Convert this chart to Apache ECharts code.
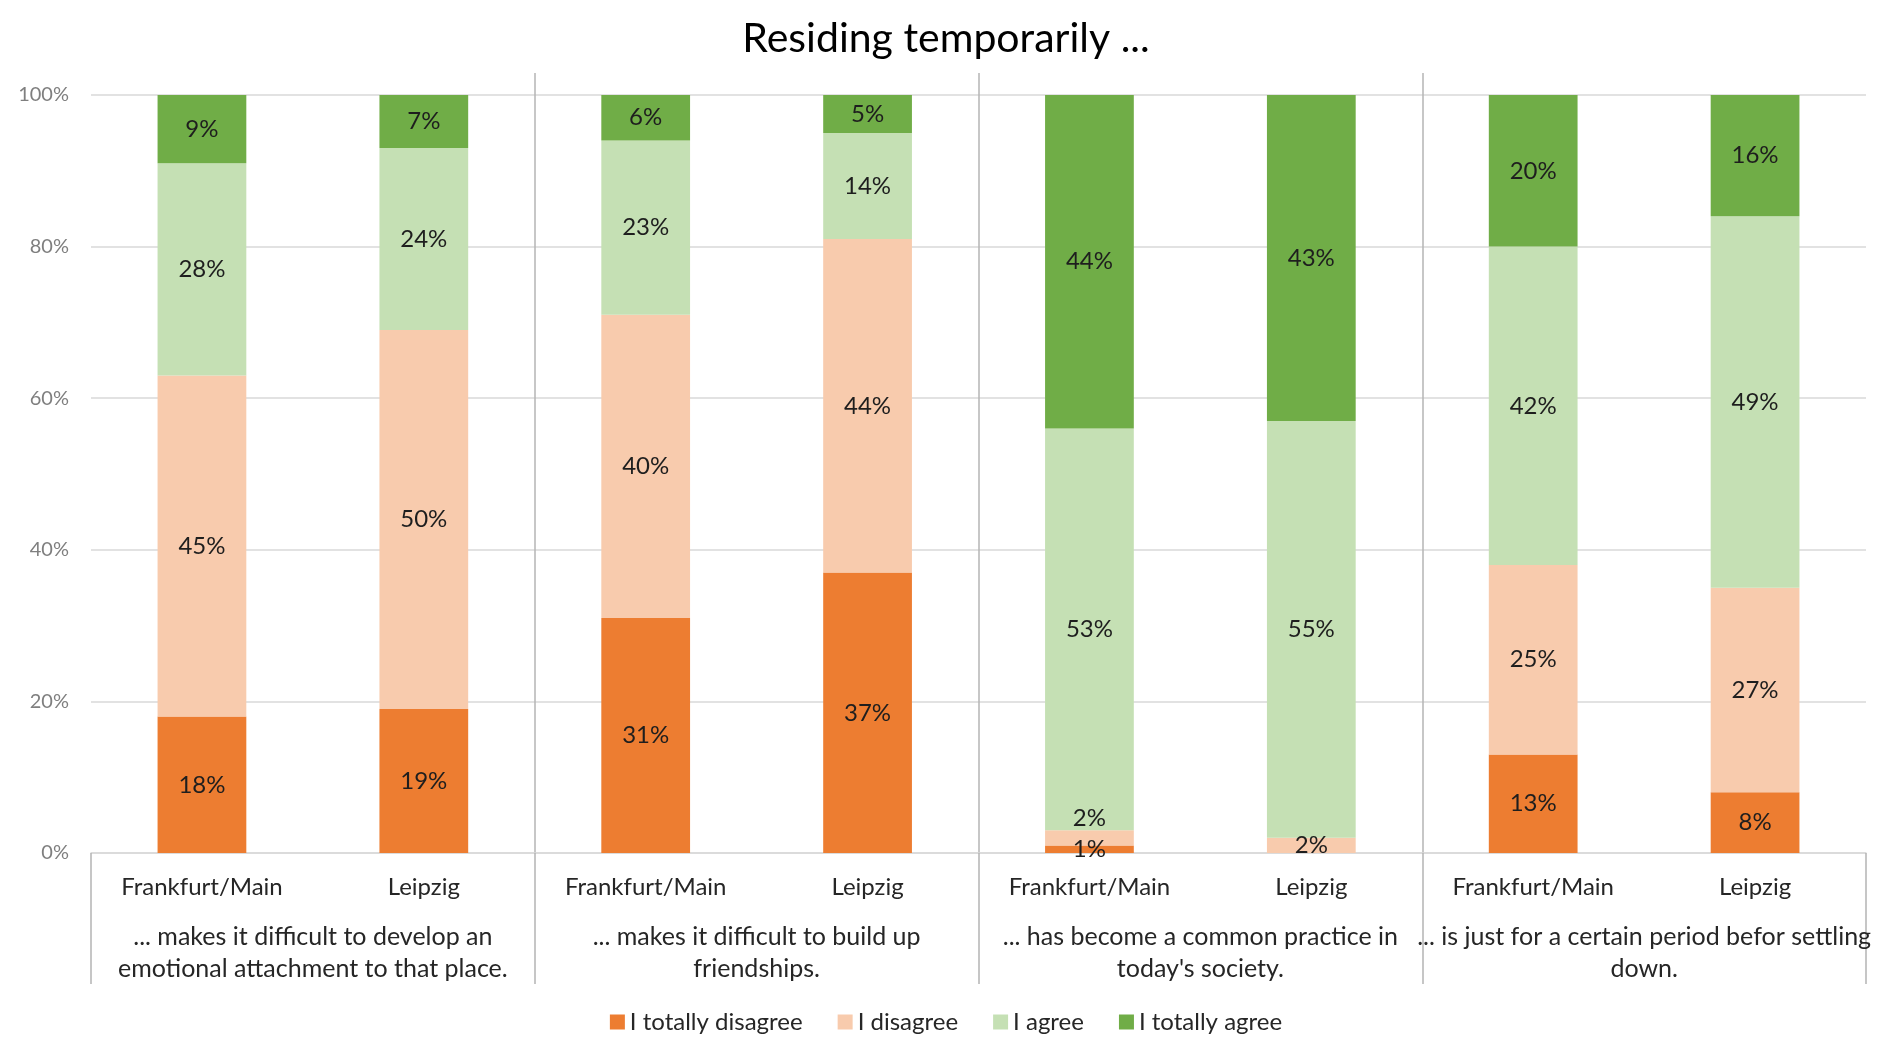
<!DOCTYPE html>
<html>
<head>
<meta charset="UTF-8" />
<title>Residing temporarily</title>
<script src="https://cdn.jsdelivr.net/npm/echarts@6/dist/echarts.min.js"></script>
<style type="text/css">
body{
	margin: 0px;
	background: #fff;
}
#chart{
	width: 1892px;
	height: 1052px;
}
</style>
</head>
<body>

<div id="chart"></div>

<script type="text/javascript">

// one bar per city, two cities per statement
var cities = ['Frankfurt/Main', 'Leipzig', 'Frankfurt/Main', 'Leipzig',
	'Frankfurt/Main', 'Leipzig', 'Frankfurt/Main', 'Leipzig'];

var statements = [
	'... makes it difficult to develop an\nemotional attachment to that place.',
	'... makes it difficult to build up\nfriendships.',
	'... has become a common practice in\ntoday\'s society.',
	'... is just for a certain period befor settling\ndown.'
];

var answerNames = ['I totally disagree', 'I disagree', 'I agree', 'I totally agree'];
var answerColors = ['#ED7D31', '#F8CBAD', '#C5E0B4', '#70AD47'];

// percentages, in the city order above
var totallyDisagree = [18, 19, 31, 37, 1, 0, 13, 8];
var disagree        = [45, 50, 40, 44, 2, 2, 25, 27];
var agree           = [28, 24, 23, 14, 53, 55, 42, 49];
var totallyAgree    = [9, 7, 6, 5, 44, 43, 20, 16];

var yTicks = [0, 20, 40, 60, 80, 100];

var FONT = 'Lato, "Open Sans", sans-serif';

function buildSeries(){
	var all = [totallyDisagree, disagree, agree, totallyAgree];
	return all.map(function(values, k){
		var data = values.map(function(v, i){
			var item = { value: v };
			// tiny segment sitting on another tiny one: push its label above
			if(k > 0 && v > 0 && v < 3 && all[k - 1][i] > 0 && all[k - 1][i] < 3){
				item.label = { position: 'top', distance: 0 };
			}
			return item;
		});
		return {
			name: answerNames[k],
			type: 'bar',
			stack: 'total',
			xAxisIndex: 0,
			yAxisIndex: 0,
			barWidth: '40%',
			itemStyle: { color: answerColors[k] },
			label: {
				show: true,
				position: 'inside',
				color: '#1e1e1e',
				fontFamily: FONT,
				fontSize: 24,
				formatter: function(p){ return p.value === 0 ? '' : p.value + '%'; }
			},
			emphasis: { disabled: true },
			data: data
		};
	});
}

var chart = echarts.init(document.getElementById('chart'));

chart.setOption({
	animation: false,
	backgroundColor: '#fff',
	title: {
		text: 'Residing temporarily ...',
		left: 'center',
		top: 13,
		textStyle: { fontFamily: FONT, fontSize: 41, fontWeight: 'normal', color: '#000' }
	},
	legend: {
		data: answerNames,
		bottom: 13,
		left: 'center',
		icon: 'rect',
		itemWidth: 15,
		itemHeight: 15,
		itemGap: 35,
		textStyle: { fontFamily: FONT, fontSize: 24, color: '#262626' }
	},
	grid: [
		{ left: 91, right: 26, top: 95, bottom: 199 },
		{ left: 91, right: 26, top: 73, bottom: 199 }
	],
	xAxis: [
		{
			type: 'category',
			gridIndex: 0,
			data: cities,
			axisLine: { lineStyle: { color: '#d9d9d9', width: 1.5 } },
			axisTick: { show: false },
			axisLabel: {
				interval: 0,
				margin: 22,
				color: '#262626',
				fontFamily: FONT,
				fontSize: 24
			}
		},
		{
			type: 'category',
			gridIndex: 1,
			position: 'bottom',
			data: statements,
			axisLine: { show: false },
			axisTick: {
				show: true,
				interval: 0,
				length: 131,
				lineStyle: { color: '#b4b4b4', width: 1.5 }
			},
			splitLine: {
				show: true,
				interval: 0,
				showMinLine: false,
				showMaxLine: false,
				lineStyle: { color: '#b4b4b4', width: 1.5 }
			},
			axisLabel: {
				interval: 0,
				margin: 68,
				lineHeight: 32,
				color: '#262626',
				fontFamily: FONT,
				fontSize: 25
			}
		}
	],
	yAxis: [
		{
			type: 'value',
			gridIndex: 0,
			min: yTicks[0],
			max: yTicks[yTicks.length - 1],
			interval: yTicks[1] - yTicks[0],
			axisLine: { show: false },
			axisTick: { show: false },
			splitLine: { lineStyle: { color: '#d9d9d9', width: 1.5 } },
			axisLabel: {
				margin: 22,
				color: '#7f7f7f',
				fontFamily: FONT,
				fontSize: 20,
				formatter: '{value}%'
			}
		},
		{
			type: 'value',
			gridIndex: 1,
			show: false
		}
	],
	series: buildSeries()
});

</script>

</body>
</html>
